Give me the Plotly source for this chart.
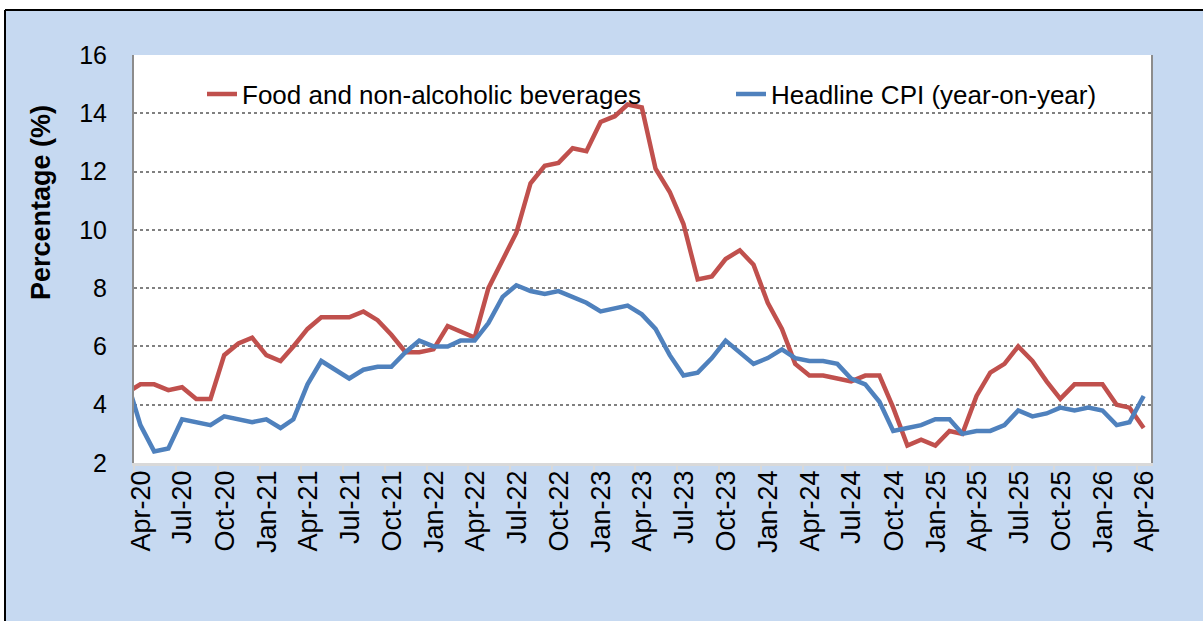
import pandas as pd
import plotly.graph_objects as go

# Monthly observations (Mar-20 .. Apr-26); Mar-20 lies just left of the visible axis start
months = pd.date_range("2020-03-01", periods=74, freq="MS") + pd.Timedelta(days=14)

food = [4.4,
        4.7, 4.7, 4.5, 4.6, 4.2, 4.2, 5.7, 6.1, 6.3, 5.7, 5.5, 6.0,
        6.6, 7.0, 7.0, 7.0, 7.2, 6.9, 6.4, 5.8, 5.8, 5.9, 6.7, 6.5,
        6.3, 8.0, 9.0, 9.9, 11.6, 12.2, 12.3, 12.8, 12.7, 13.7, 13.9, 14.3,
        14.2, 12.1, 11.3, 10.2, 8.3, 8.4, 9.0, 9.3, 8.8, 7.5, 6.6, 5.4,
        5.0, 5.0, 4.9, 4.8, 5.0, 5.0, 3.9, 2.6, 2.8, 2.6, 3.1, 3.0,
        4.3, 5.1, 5.4, 6.0, 5.5, 4.8, 4.2, 4.7, 4.7, 4.7, 4.0, 3.9,
        3.2]

headline = [4.9,
            3.3, 2.4, 2.5, 3.5, 3.4, 3.3, 3.6, 3.5, 3.4, 3.5, 3.2, 3.5,
            4.7, 5.5, 5.2, 4.9, 5.2, 5.3, 5.3, 5.8, 6.2, 6.0, 6.0, 6.2,
            6.2, 6.8, 7.7, 8.1, 7.9, 7.8, 7.9, 7.7, 7.5, 7.2, 7.3, 7.4,
            7.1, 6.6, 5.7, 5.0, 5.1, 5.6, 6.2, 5.8, 5.4, 5.6, 5.9, 5.6,
            5.5, 5.5, 5.4, 4.9, 4.7, 4.1, 3.1, 3.2, 3.3, 3.5, 3.5, 3.0,
            3.1, 3.1, 3.3, 3.8, 3.6, 3.7, 3.9, 3.8, 3.9, 3.8, 3.3, 3.4,
            4.3]

series_names = ["Food and non-alcoholic beverages", "Headline CPI (year-on-year)"]
series_colors = ["#C0504D", "#4F81BD"]
legend_ids = ["legend", "legend2"]

W, H = 1203, 621
L, R, T, B = 134, 52, 55, 158
PW, PH = W - L - R, H - T - B
FONT = "Liberation Sans, Arial, sans-serif"
BG = "#C6D9F1"


def px_x(px):
    return (px - L) / PW


def px_y(py):
    return (H - B - py) / PH


fig = go.Figure()
for name, vals, col, lg in zip(series_names, [food, headline], series_colors, legend_ids):
    fig.add_trace(go.Scatter(x=months, y=vals, mode="lines", name=name, legend=lg,
                             line=dict(color=col, width=4.5)))

shapes = [
    dict(type="rect", xref="paper", yref="paper", layer="below",
         x0=px_x(-5), x1=px_x(W + 20), y0=px_y(10), y1=px_y(-10),
         fillcolor="white", line=dict(width=0)),
    dict(type="rect", xref="paper", yref="paper", layer="below",
         x0=px_x(-10), x1=px_x(5), y0=px_y(H + 20), y1=px_y(-10),
         fillcolor="white", line=dict(width=0)),
    dict(type="line", xref="paper", yref="paper", layer="below",
         x0=px_x(5), x1=px_x(W + 20), y0=px_y(10), y1=px_y(10),
         line=dict(color="black", width=2)),
    dict(type="line", xref="paper", yref="paper", layer="below",
         x0=px_x(5), x1=px_x(5), y0=px_y(10), y1=px_y(H + 20),
         line=dict(color="black", width=2)),
]

legend_common = dict(orientation="h", xanchor="left", yanchor="middle",
                     bgcolor="rgba(0,0,0,0)", font=dict(size=26, family=FONT),
                     itemwidth=30)

fig.update_layout(
    width=W, height=H,
    margin=dict(l=L, r=R, t=T, b=B),
    paper_bgcolor=BG, plot_bgcolor="white",
    font=dict(family=FONT, color="black", size=24),
    shapes=shapes,
    showlegend=True,
    legend=dict(x=px_x(202), y=px_y(94), **legend_common),
    legend2=dict(x=px_x(731), y=px_y(94), **legend_common),
    annotations=[dict(text="<b>Percentage (%)</b>", textangle=-90,
                      xref="paper", yref="paper", x=px_x(41), y=px_y(203),
                      xanchor="center", yanchor="middle", showarrow=False,
                      font=dict(size=27, family=FONT, color="black"))],
    xaxis=dict(type="date", range=["2020-04-01", "2026-05-01"],
               tick0="2020-04-01", dtick="M3", tickformat="%b-%y",
               tickangle=-90, ticks="outside", ticklen=7, tickwidth=1.5,
               tickcolor="#D9D9D9", showline=True, linecolor="#D9D9D9", linewidth=2.5,
               showgrid=False, zeroline=False, ticklabelshift=7, ticklabelstandoff=-13,
               tickfont=dict(size=27, family=FONT)),
    yaxis=dict(range=[2, 16], dtick=2, showgrid=True, gridcolor="#808080",
               griddash="dot", gridwidth=1.5, showline=True, mirror=True,
               linecolor="#8C8C8C", linewidth=2, zeroline=False,
               ticks="outside", ticklen=20, tickcolor="rgba(0,0,0,0)",
               tickfont=dict(size=25, family=FONT)),
)

fig.write_html("out.html")
